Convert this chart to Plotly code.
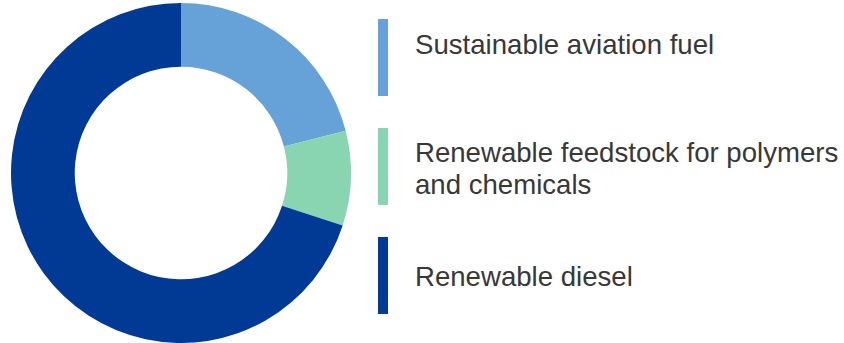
import plotly.graph_objects as go

W, H = 844, 343

categories = ["Sustainable aviation fuel",
              "Renewable feedstock for polymers and chemicals",
              "Renewable diesel"]
values = [21, 9, 70]
colors = ["#66a1d8", "#8ad5b1", "#003a94"]
legend_lines = [["Sustainable aviation fuel"],
                ["Renewable feedstock for polymers", "and chemicals"],
                ["Renewable diesel"]]

def px(x):
    return x / W

def py(y):
    return 1 - y / H

cx, cy, r = 181, 173, 170

fig = go.Figure(go.Pie(
    labels=categories,
    values=values,
    marker=dict(colors=colors, line=dict(width=0)),
    hole=0.625,
    sort=False,
    direction="clockwise",
    rotation=0,
    textinfo="none",
    hoverinfo="label+percent",
    showlegend=False,
    domain=dict(x=[px(cx - r), px(cx + r)], y=[max(0, py(cy + r)), min(1, py(cy - r))]),
))

bars = [(19, 96), (128, 205), (237, 314)]
text_mid = [[44], [153, 184], [276]]
shapes = []
annotations = []
for i, (y0, y1) in enumerate(bars):
    shapes.append(dict(type="rect", xref="paper", yref="paper",
                       x0=px(378), x1=px(388), y0=py(y1), y1=py(y0),
                       fillcolor=colors[i], line=dict(width=0)))
    for line, ym in zip(legend_lines[i], text_mid[i]):
        annotations.append(dict(xref="paper", yref="paper", x=px(413), y=py(ym),
                                xanchor="left", yanchor="middle", showarrow=False,
                                text=line,
                                font=dict(family="Liberation Sans, Arial, sans-serif",
                                          size=27.6, color="#383838")))

fig.update_layout(
    width=W, height=H,
    margin=dict(l=0, r=0, t=0, b=0),
    paper_bgcolor="white", plot_bgcolor="white",
    shapes=shapes, annotations=annotations,
)

fig.write_html("out.html", config={"displayModeBar": False},
               post_script="document.body.style.margin='0';")
